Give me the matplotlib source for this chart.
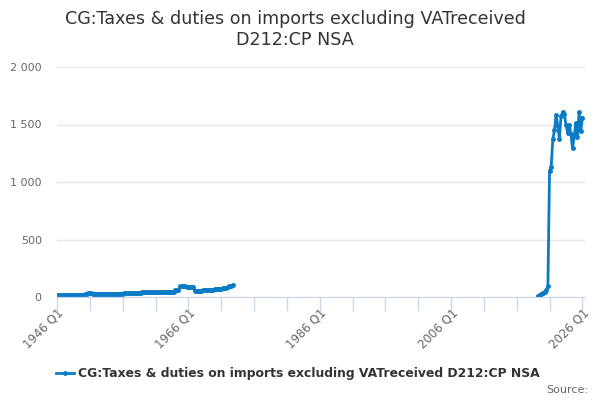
import numpy as np
import matplotlib
matplotlib.use("Agg")
import matplotlib.pyplot as plt

title = "CG:Taxes & duties on imports excluding VATreceived\nD212:CP NSA"
series_name = "CG:Taxes & duties on imports excluding VATreceived D212:CP NSA"

# quarterly values, 1946 Q1 - 1972 Q4
early_start = 1946.0
early_vals = [
    15, 15, 16, 16,   # 1946
    16, 17, 17, 17,   # 1947
    18, 18, 18, 19,   # 1948
    19, 19, 20, 20,   # 1949
    21, 22, 28, 32,   # 1950
    33, 31, 28, 26,   # 1951
    24, 23, 23, 24,   # 1952
    24, 25, 25, 26,   # 1953
    26, 27, 27, 28,   # 1954
    28, 29, 29, 30,   # 1955
    30, 31, 31, 32,   # 1956
    32, 33, 33, 34,   # 1957
    35, 36, 37, 38,   # 1958
    40, 41, 41, 42,   # 1959
    42, 43, 43, 43,   # 1960
    43, 44, 44, 44,   # 1961
    44, 44, 45, 45,   # 1962
    45, 46, 46, 47,   # 1963
    58, 60, 62, 92,   # 1964
    96, 95, 92, 90,   # 1965
    89, 88, 87, 86,   # 1966
    55, 50, 48, 52,   # 1967
    55, 57, 58, 60,   # 1968
    60, 61, 62, 63,   # 1969
    66, 68, 70, 72,   # 1970
    72, 74, 76, 80,   # 1971
    88, 94, 100, 105, # 1972
]

# quarterly values, 2019 Q2 - 2026 Q1
late_start = 2019.25
late_vals = [10, 18, 28, 37, 45, 60, 95, 1096,
             1133, 1370, 1450, 1585, 1490, 1375, 1570, 1605, 1590, 1500,
             1430, 1495, 1420, 1295, 1400, 1510, 1390, 1605, 1440, 1560]

tick_years = [1946, 1966, 1986, 2006, 2026]
tick_labels = ["1946 Q1", "1966 Q1", "1986 Q1", "2006 Q1", "2026 Q1"]
y_ticks = [0, 500, 1000, 1500, 2000]
y_labels = ["0", "500", "1 000", "1 500", "2 000"]

blue = "#0a7cc6"
grey = "#666666"
axis_col = "#ccd6eb"

fig = plt.figure(figsize=(6, 4), dpi=100)
ax = fig.add_axes([0.095, 0.2575, 0.88, 0.575])

x_early = early_start + np.arange(len(early_vals)) / 4
x_late = late_start + np.arange(len(late_vals)) / 4
ax.plot(x_early, early_vals, color=blue, lw=2, marker="o", ms=2.5)
ax.plot(x_late, late_vals, color=blue, lw=2, marker="o", ms=2.5)

ax.set_xlim(1946, 2026.4)
ax.set_ylim(0, 2000)
ax.set_yticks(y_ticks)
ax.set_yticklabels(y_labels, color=grey, fontsize=8)
ax.tick_params(axis="y", length=0, pad=11)
ax.grid(axis="y", color="#e6e6e6", lw=1)
ax.set_axisbelow(True)

ax.set_xticks(np.arange(1946, 2027, 5))
ax.set_xticklabels(["" for _ in np.arange(1946, 2027, 5)])
ax.tick_params(axis="x", length=10, color=axis_col, width=1)
for yr, lab in zip(tick_years, tick_labels):
    ax.text(yr, -0.04, lab, transform=ax.get_xaxis_transform(), rotation=45,
            ha="right", va="top", color=grey, fontsize=8.5, rotation_mode="anchor")

for s in ["top", "right", "left"]:
    ax.spines[s].set_visible(False)
ax.spines["bottom"].set_color(axis_col)

fig.text(0.492, 0.975, title, ha="center", va="top", fontsize=12.6,
         color="#333333", linespacing=1.2)

fig.legend([plt.Line2D([], [], color=blue, lw=2, marker="o", ms=2.5)], [series_name],
           loc="center", bbox_to_anchor=(0.497, 0.065), frameon=False,
           prop={"weight": "bold", "size": 8.9}, labelcolor="#333333",
           handlelength=1.4, handletextpad=0.4)
fig.text(0.98, 0.025, "Source:", ha="right", va="center", color=grey, fontsize=8)

fig.savefig("out.png", dpi=100)
